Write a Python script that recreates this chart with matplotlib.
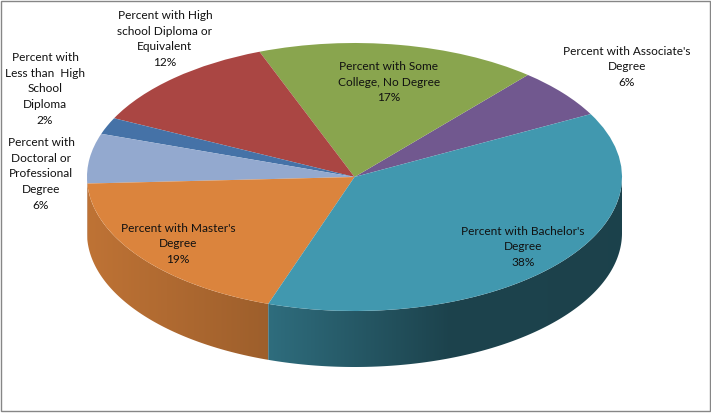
import matplotlib
matplotlib.use("Agg")
import matplotlib.pyplot as plt
from matplotlib.patches import Polygon, Rectangle
import numpy as np

plt.rcParams['font.family'] = ['Lato', 'DejaVu Sans']

# Highest degree shares, in drawing order going counter-clockwise
labels = [
    "Percent with Associate's\nDegree",
    "Percent with Some\nCollege, No Degree",
    "Percent with High\nschool Diploma or\nEquivalent",
    "Percent with\nLess than  High\nSchool\nDiploma",
    "Percent with\nDoctoral or\nProfessional\nDegree",
    "Percent with Master's\nDegree",
    "Percent with Bachelor's\nDegree",
]
values = [6, 17, 12, 2, 6, 19, 38]
colors = ['#71588F', '#89A54E', '#AA4643', '#4572A7', '#93A9CF', '#DB843D', '#4198AF']

# Label centres in pixels
label_x = [627, 389, 165, 45, 41, 178, 523]
label_y = [67, 82, 39, 89, 174, 244, 247]

W, H = 711, 414
cx, cy = 354.5, 178
rx, ry = 267.5, 134
depth = 56 / ry
start = 28.0


def to_data(px, py):
    return (px - cx) / rx, (cy - py) / ry


fig = plt.figure(figsize=(W / 100, H / 100), dpi=100)
ax = fig.add_axes([0, 0, 1, 1])

wedges, _ = ax.pie(values, colors=colors, startangle=start, radius=1, wedgeprops={'linewidth': 0, 'zorder': 3})

# Side wall of the disc, a horizontal gradient clipped to each slice's outline
edges = start + np.cumsum([0] + values) * 3.6
grad_x = np.linspace(-1, 1, 535)
shade = np.interp(grad_x, [-1, -0.33, 0.35, 1], [0.87, 0.72, 0.44, 0.43])
for i, c in enumerate(colors):
    t0 = max(edges[i], 180)
    t1 = min(edges[i + 1], 360)
    if t1 <= t0:
        continue
    t = np.radians(np.linspace(t0, t1, 200))
    xs, ys = np.cos(t), np.sin(t)
    outline = np.column_stack([np.r_[xs, xs[::-1]], np.r_[ys, ys[::-1] - depth]])
    base = np.array(matplotlib.colors.to_rgb(c))
    img = (shade[:, None] * base)[None, :, :]
    im = ax.imshow(img, extent=[-1, 1, -1 - depth, 0], aspect='auto', zorder=2, interpolation='bilinear')
    im.set_clip_path(Polygon(outline, transform=ax.transData))

ax.set_aspect('auto')
ax.set_xlim(to_data(0, 0)[0], to_data(W, 0)[0])
ax.set_ylim(to_data(0, H)[1], to_data(0, 0)[1])
ax.axis('off')

for lab, v, x, y in zip(labels, values, label_x, label_y):
    tx, ty = to_data(x, y)
    ax.text(tx, ty, f"{lab}\n{v}%", ha='center', va='center', fontsize=8.6,
            linespacing=1.55, color='#111111', zorder=5)

# Thin grey frame around the chart area
fig.add_artist(Rectangle((1.5 / W, 1 - 411.5 / H), 708 / W, 410 / H, transform=fig.transFigure,
                         fill=False, edgecolor='#868686', linewidth=1))

fig.savefig('out.png', dpi=100, facecolor='white')
